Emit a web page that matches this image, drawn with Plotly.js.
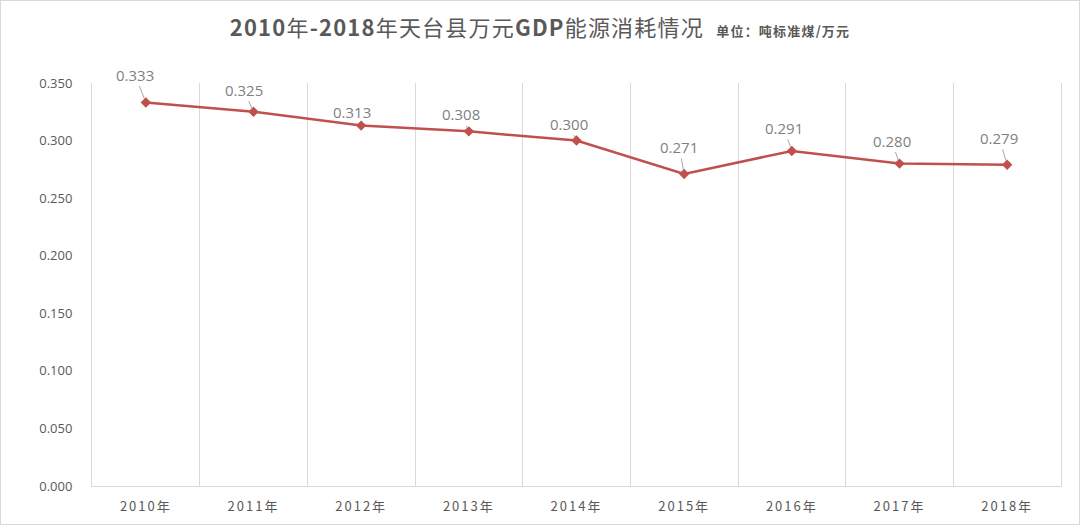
<!DOCTYPE html>
<html>
<head>
<meta charset="utf-8">
<script src="https://cdn.plot.ly/plotly-3.0.1.min.js"></script>
<style>
  html, body { margin: 0; padding: 0; background: #fff; }
  #chart { width: 1080px; height: 525px; box-sizing: border-box; border: 1px solid #d9d9d9; }
  #chart .xtick text { letter-spacing: 2px; }
  #chart .gtitle { letter-spacing: 1.2px; }
</style>
</head>
<body>
<div id="chart"></div>
<script>
// Data
const years = ["2010年", "2011年", "2012年", "2013年", "2014年", "2015年", "2016年", "2017年", "2018年"];
const energyPerGDP = [0.333, 0.325, 0.313, 0.308, 0.300, 0.271, 0.291, 0.280, 0.279];
const yTickValues = [0, 0.05, 0.1, 0.15, 0.2, 0.25, 0.3, 0.35];

// Label placement (styling only): offsets of each data label relative to its point
const labelOffsetX = [-11, -10, -9, -8, -8, -5, -8, -8, -8];
const labelOffsetY = [-28, -22, -14, -17, -17, -27, -23, -23, -27];

const lineColor = "#C0504D";
const textGray = "#595959";
const labelGray = "#7f7f7f";
const gridGray = "#d9d9d9";
const fontFam = "'Noto Sans CJK SC', 'Noto Sans', sans-serif";
const numFont = "'Open Sans', 'Noto Sans', sans-serif";

const trace = {
  x: years,
  y: energyPerGDP,
  type: "scatter",
  mode: "lines+markers",
  line: { color: lineColor, width: 2.5 },
  marker: { symbol: "diamond", size: 8, color: lineColor },
  hoverinfo: "x+y"
};

const annotations = years.map((yr, i) => ({
  x: yr,
  y: energyPerGDP[i],
  xref: "x",
  yref: "y",
  text: energyPerGDP[i].toFixed(3),
  showarrow: true,
  arrowhead: 0,
  arrowwidth: 1,
  arrowcolor: "#a6a6a6",
  standoff: 4,
  ax: labelOffsetX[i],
  ay: labelOffsetY[i],
  font: { family: numFont, size: 15, color: labelGray }
}));

const layout = {
  width: 1078,
  height: 523,
  margin: { l: 91, r: 18, t: 82, b: 38 },
  paper_bgcolor: "#ffffff",
  plot_bgcolor: "#ffffff",
  showlegend: false,
  title: {
    text: "<b>2010</b>年<b>-2018</b>年天台县万元<b>GDP</b>能源消耗情况<span style='font-size:13px;'>&nbsp;&nbsp;&nbsp;</span><b><span style='font-size:13px;'>单位：吨标准煤/万元</span></b>",
    font: { family: fontFam, size: 22, color: textGray },
    x: 0.5,
    xanchor: "center",
    xref: "container",
    y: 1 - 27 / 523,
    yanchor: "middle",
    yref: "container"
  },
  xaxis: {
    type: "category",
    range: [-0.5, 8.5],
    tickson: "boundaries",
    showgrid: true,
    gridcolor: gridGray,
    gridwidth: 1,
    showline: true,
    linecolor: gridGray,
    linewidth: 1,
    ticks: "",
    ticklabelstandoff: 8,
    tickfont: { family: fontFam, size: 13, color: textGray },
    zeroline: false,
    fixedrange: true
  },
  yaxis: {
    range: [0, 0.35],
    tickvals: yTickValues,
    tickformat: ".3f",
    showgrid: false,
    showline: true,
    mirror: true,
    linecolor: gridGray,
    linewidth: 1,
    ticks: "",
    ticklabelstandoff: 16,
    tickfont: { family: numFont, size: 13, color: textGray },
    zeroline: false,
    fixedrange: true
  },
  annotations: annotations
};

Plotly.newPlot("chart", [trace], layout, { displayModeBar: false, staticPlot: true });
</script>
</body>
</html>
